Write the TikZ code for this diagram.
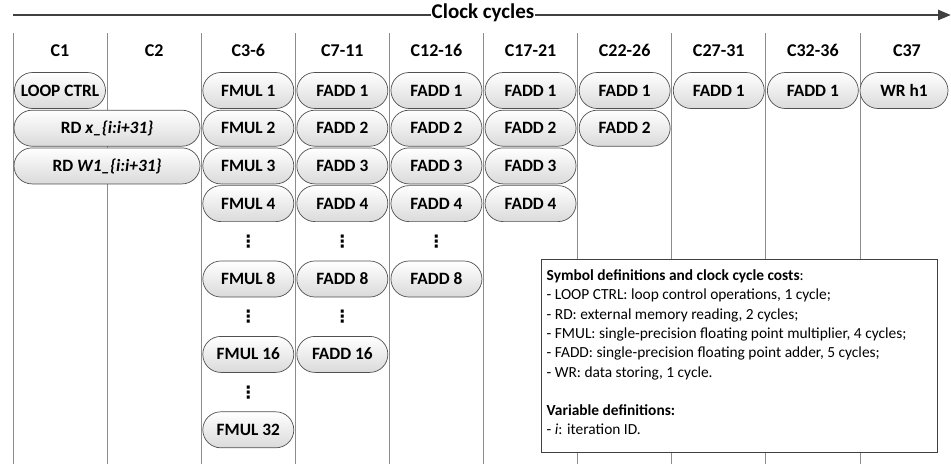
\documentclass[tikz,border=0pt]{standalone}
\usepackage{fontspec}
\setmainfont{Carlito}
\newfontfamily\dotfont{DejaVu Sans}
\usetikzlibrary{arrows.meta,shapes.misc}
\definecolor{axisgray}{HTML}{404040}
\definecolor{rule}{HTML}{8C8C8C}
\definecolor{edge}{HTML}{505050}
\definecolor{shade}{HTML}{DADADA}

\tikzset{
  op/.style={rounded rectangle,draw=edge,line width=.7pt,top color=white,
    bottom color=shade,minimum width=91pt,minimum height=36pt,inner sep=0pt,
    text height=11pt,text depth=0pt,
    font=\bfseries\fontsize{17.3}{19}\selectfont},
  head/.style={anchor=base,inner sep=0pt,font=\bfseries\fontsize{18}{20}\selectfont},
  vdot/.style={font=\dotfont\bfseries\fontsize{17}{19}\selectfont,inner sep=0pt},
}

\begin{document}
\begin{tikzpicture}[x=1pt,y=-1pt,>=Latex]
  \useasboundingbox (0,0) rectangle (951,464);

  \foreach \i in {0,...,9}
    \draw[rule,line width=.8pt] ({13+94.1*\i},33)--({13+94.1*\i},464);

  \coordinate (t0) at (13,15);
  \coordinate (t1) at (951,15);
  \draw[axisgray,line width=2.6pt,-{Triangle[length=13pt,width=10pt]}] (t0)--(t1);
  \node[fill=white,inner xsep=1pt,inner ysep=0pt,
    font=\bfseries\fontsize{21}{23}\selectfont] (clk) at (483,13) {Clock cycles};

  \foreach \lab [count=\i from 0] in {C1,C2,C3-6,C7-11,C12-16,C17-21,C22-26,C27-31,C32-36,C37}
    \node[head] (c\i) at ({13+94.1*(\i+.5)},56.5) {\lab};

  \node[op] (loop) at (60,90.5) {LOOP CTRL};
  \node[op,minimum width=186pt] (rdx) at (107,128.2) {RD \textit{x\_\{i:i+31\}}};
  \node[op,minimum width=186pt] (rdw) at (107,165.9) {RD \textit{W1\_\{i:i+31\}}};

  \foreach \k/\n in {0/1,1/2,2/3,3/4,5/8,7/16,9/32}
    \node[op] (fmul\n) at (248.3,{90.5+37.7*\k}) {FMUL \n};
  \foreach \k in {4,6,8}
    \node[vdot] (mdots\k) at (248.3,{90.5+37.7*\k}) {⋮};

  \foreach \c/\top in {3/7,4/5,5/3,6/1,7/0,8/0}{
    \pgfmathsetmacro{\xx}{13+94.1*(\c+.5)}
    \foreach \k/\n in {0/1,1/2,2/3,3/4,5/8,7/16}{
      \ifnum\k>\top\else
        \node[op] (fadd\c-\n) at (\xx,{90.5+37.7*\k}) {FADD \n};
      \fi
    }
    \foreach \k in {4,6}{
      \ifnum\k<\top
        \node[vdot] (adots\c-\k) at (\xx,{90.5+37.7*\k}) {⋮};
      \fi
    }
  }

  \node[op,minimum width=88pt] (wr) at (904,90.5) {WR h1};

  \node[draw=axisgray,line width=1pt,fill=white,minimum width=396pt,
    minimum height=193pt,inner sep=0pt] (leg) at (739,355.5) {};
  \node[anchor=north west,align=left,inner sep=0pt,
    font=\fontsize{15.4}{19.3}\selectfont] (legtxt) at ([xshift=6pt,yshift=-11pt]leg.north west)
    {\textbf{Symbol definitions and clock cycle costs}:\\
     - LOOP CTRL: loop control operations, 1 cycle;\\
     - RD: external memory reading, 2 cycles;\\
     - FMUL: single-precision floating point multiplier, 4 cycles;\\
     - FADD: single-precision floating point adder, 5 cycles;\\
     - WR: data storing, 1 cycle.\\[19.3pt]
     \textbf{Variable definitions:}\\
     - \textit{i}: iteration ID.};
\end{tikzpicture}
\end{document}
